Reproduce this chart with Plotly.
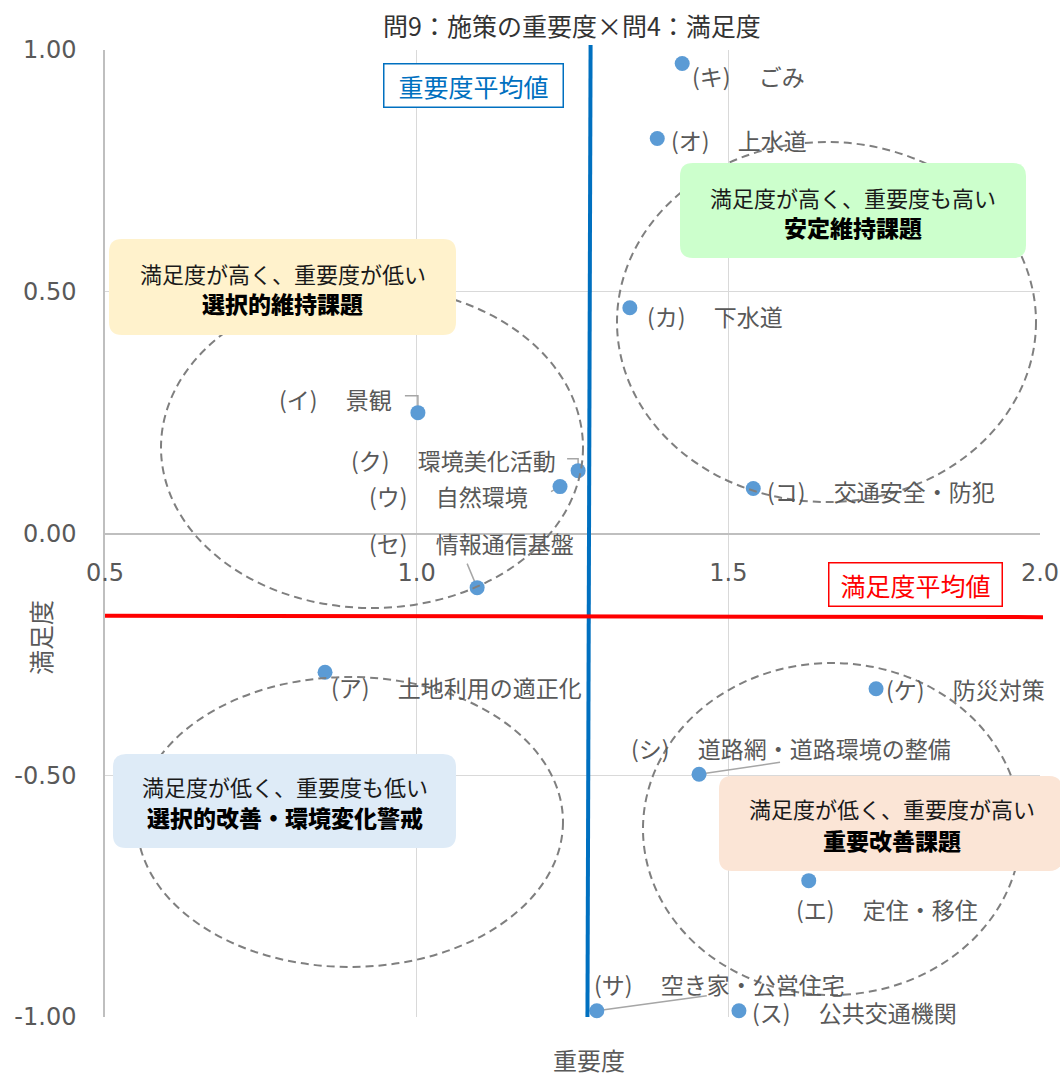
import plotly.graph_objects as go

# ---------------- data ----------------
codes = ["ア", "イ", "ウ", "エ", "オ", "カ", "キ", "ク", "ケ", "コ", "サ", "シ", "ス", "セ"]
names = ["土地利用の適正化", "景観", "自然環境", "定住・移住", "上水道", "下水道", "ごみ",
         "環境美化活動", "防災対策", "交通安全・防犯", "空き家・公営住宅",
         "道路網・道路環境の整備", "公共交通機関", "情報通信基盤"]
importance = [0.853, 1.002, 1.230, 1.629, 1.386, 1.342, 1.426,
              1.259, 1.737, 1.540, 1.289, 1.453, 1.517, 1.097]
satisfaction = [-0.287, 0.250, 0.097, -0.718, 0.817, 0.467, 0.972,
                0.130, -0.321, 0.093, -0.987, -0.498, -0.987, -0.112]

importance_avg = [1.279, 1.274]      # hand-drawn line: top, bottom
satisfaction_avg = [-0.170, -0.173]  # hand-drawn line: left, right

x_ticks = [0.5, 1.0, 1.5, 2.0]
x_tick_text = ["0.5", "1.0", "1.5", "2.0"]
y_ticks = [-1.0, -0.5, 0.0, 0.5, 1.0]
y_tick_text = ["-1.00", "-0.50", "0.00", "0.50", "1.00"]

title_text = "問9：施策の重要度×問4：満足度"
x_title = "重要度"
y_title = "満足度"
imp_avg_label = "重要度平均値"
sat_avg_label = "満足度平均値"

quad_line1 = ["満足度が高く、重要度が低い", "満足度が高く、重要度も高い",
              "満足度が低く、重要度も低い", "満足度が低く、重要度が高い"]
quad_line2 = ["選択的維持課題", "安定維持課題", "選択的改善・環境変化警戒", "重要改善課題"]

# ---------------- layout / style ----------------
W, H = 1060, 1080
ML, MR, MT, MB = 105, 20, 50, 63
PW, PH = W - ML - MR, H - MT - MB

def px(x):
    return (x - ML) / PW

def py(y):
    return (H - MB - y) / PH

JP = "Noto Sans CJK JP"
NUM = "DejaVu Sans"
GRAY = "#595959"

# label offsets (pixels, relative to each point)
label_off = {"ア": (4, -15), "イ": (-141, 14), "ウ": (-193, -9), "エ": (-15, -28),
             "オ": (12, -2), "カ": (15, -8), "キ": (8, -12), "ク": (-229, 11),
             "ケ": (8, 0), "コ": (12, -2), "サ": (-5, 27), "シ": (-70, 26),
             "ス": (11, -1), "セ": (-110, 45)}
leader_path = {"イ": "M -13,17 L 0,17 L 0,0", "ク": "M -11,12 L 0,12 L 0,0",
               "ウ": "M -9,-5 L 0,0", "セ": "M -10,24 L 0,0",
               "シ": "M 81,12 L 0,0", "サ": "M 110,15 L 0,0"}

# ellipses in pixel bounds (x0, y0, x1, y1)
ellipses_px = [(161, 287, 583, 608), (617, 142, 1036, 502),
               (137, 677, 563, 967), (643, 663, 1021, 995)]
boxes_px = [(109, 239, 456, 335), (680, 163, 1026, 258),
            (113, 754, 456, 848), (719, 776, 1062, 871)]
box_colors = ["#FFF2CC", "#CCFFCC", "#DEEBF7", "#FBE5D6"]
box_text = [(282.5, 273, 303), (853, 197, 227), (284.5, 786, 817), (892, 808, 840)]

fig = go.Figure()

fig.add_trace(go.Scatter(
    x=importance, y=satisfaction, mode="markers",
    marker=dict(size=15, color="#5B9BD5", line=dict(width=0)),
    cliponaxis=False, showlegend=False, hoverinfo="skip"))

shapes = []

# leader lines
for c, p in leader_path.items():
    i = codes.index(c)
    shapes.append(dict(type="path", xref="x", yref="y", xsizemode="pixel", ysizemode="pixel",
                       xanchor=importance[i], yanchor=satisfaction[i], path=p,
                       line=dict(color="#A6A6A6", width=1.5), layer="between"))

# dashed ellipses (pixel bounds -> paper)
for (x0, y0, x1, y1) in ellipses_px:
    shapes.append(dict(type="circle", xref="paper", yref="paper",
                       x0=px(x0), x1=px(x1), y0=py(y1), y1=py(y0),
                       line=dict(color="#7F7F7F", width=2, dash="8px,5px"),
                       fillcolor="rgba(0,0,0,0)", layer="above"))

def rrect(x0, y0, x1, y1, r):
    P = lambda x, y: f"{px(x):.5f},{py(y):.5f}"
    return ("M " + P(x0 + r, y0) + " L " + P(x1 - r, y0) + " Q " + P(x1, y0) + " " + P(x1, y0 + r) +
            " L " + P(x1, y1 - r) + " Q " + P(x1, y1) + " " + P(x1 - r, y1) +
            " L " + P(x0 + r, y1) + " Q " + P(x0, y1) + " " + P(x0, y1 - r) +
            " L " + P(x0, y0 + r) + " Q " + P(x0, y0) + " " + P(x0 + r, y0) + " Z")

for b, col in zip(boxes_px, box_colors):
    shapes.append(dict(type="path", xref="paper", yref="paper", path=rrect(*b, 13),
                       fillcolor=col, line=dict(width=0), layer="above"))

# average lines
shapes.append(dict(type="line", xref="x", yref="paper",
                   x0=importance_avg[0], x1=importance_avg[1], y0=py(45), y1=0,
                   line=dict(color="#0070C0", width=4), layer="above"))
shapes.append(dict(type="line", xref="paper", yref="y",
                   x0=0, x1=px(1043), y0=satisfaction_avg[0], y1=satisfaction_avg[1],
                   line=dict(color="#FF0000", width=4), layer="above"))

annotations = []
# point labels
for i, c in enumerate(codes):
    dx, dy = label_off[c]
    annotations.append(dict(x=importance[i], y=satisfaction[i], xref="x", yref="y",
                            text=f"({c})　 {names[i]}", showarrow=False,
                            xanchor="left", yanchor="middle", xshift=dx, yshift=dy,
                            font=dict(family=JP, size=23, color=GRAY)))

# quadrant box texts
for (cx, y1, y2), t1, t2 in zip(box_text, quad_line1, quad_line2):
    annotations.append(dict(x=px(cx), y=py(y1), xref="paper", yref="paper", text=t1,
                            showarrow=False, xanchor="center", yanchor="middle",
                            font=dict(family=JP, size=22, color="#1A1A1A")))
    annotations.append(dict(x=px(cx), y=py(y2), xref="paper", yref="paper", text=t2,
                            showarrow=False, xanchor="center", yanchor="middle",
                            font=dict(family=JP, size=23, color="#000000", weight=900)))

# average labels
annotations.append(dict(x=px(473), y=py(85), xref="paper", yref="paper", text=imp_avg_label,
                        showarrow=False, xanchor="center", yanchor="middle",
                        font=dict(family=JP, size=25, color="#0070C0"),
                        bordercolor="#0070C0", borderwidth=1.5, borderpad=1,
                        bgcolor="white", width=176, height=40))
annotations.append(dict(x=px(915), y=py(584), xref="paper", yref="paper", text=sat_avg_label,
                        showarrow=False, xanchor="center", yanchor="middle",
                        font=dict(family=JP, size=25, color="#FF0000"),
                        bordercolor="#FF0000", borderwidth=1.5, borderpad=1,
                        bgcolor="white", width=170, height=40))

# title and axis titles
annotations.append(dict(x=px(572), y=py(25), xref="paper", yref="paper", text=title_text,
                        showarrow=False, xanchor="center", yanchor="middle",
                        font=dict(family=JP, size=25, color="#333333")))
annotations.append(dict(x=px(589), y=py(1079), xref="paper", yref="paper", text=x_title,
                        showarrow=False, xanchor="center", yanchor="bottom",
                        font=dict(family=JP, size=24, color=GRAY)))
annotations.append(dict(x=px(40), y=py(638), xref="paper", yref="paper", text=y_title,
                        showarrow=False, xanchor="center", yanchor="middle", textangle=-90,
                        font=dict(family=JP, size=25, color=GRAY)))

fig.update_layout(
    width=W, height=H, margin=dict(l=ML, r=MR, t=MT, b=MB, autoexpand=False),
    paper_bgcolor="white", plot_bgcolor="white",
    shapes=shapes, annotations=annotations, showlegend=False,
    xaxis=dict(range=[0.5, 2.0], tickvals=x_ticks, ticktext=x_tick_text,
               showgrid=True, gridcolor="#D9D9D9", gridwidth=1,
               showline=True, linecolor="#BFBFBF", linewidth=1.5,
               zeroline=False, anchor="free", position=0.5, ticks="",
               ticklabelstandoff=18, automargin=False,
               tickfont=dict(family=NUM, size=24, color=GRAY)),
    yaxis=dict(range=[-1.0, 1.0], tickvals=y_ticks, ticktext=y_tick_text,
               showgrid=True, gridcolor="#D9D9D9", gridwidth=1,
               showline=True, linecolor="#BFBFBF", linewidth=1.5,
               zeroline=False, ticks="", ticklabelstandoff=22, automargin=False,
               tickfont=dict(family=NUM, size=24, color=GRAY)),
)

fig.write_html("out.html")
